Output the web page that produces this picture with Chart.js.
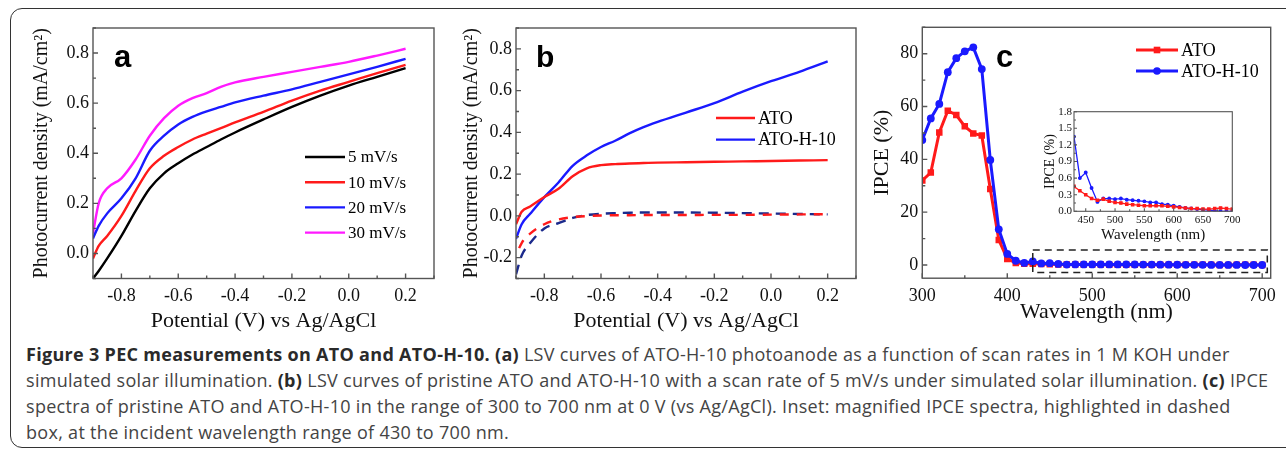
<!DOCTYPE html>
<html lang="en">
  <head>
    <meta charset="UTF-8" />
    <script src="https://cdn.jsdelivr.net/npm/chart.js"></script>
    <style>
      body { margin: 0; width: 1286px; height: 453px; overflow: hidden; background: #fff; position: relative; }
      .frame {
        position: absolute; left: 10px; top: 8px; width: 1300px; height: 440px;
        box-sizing: border-box; border: 1.6px solid #333; border-radius: 12px;
      }
      canvas { position: absolute; }
      #chartA { left: 0; top: 0; }
      #chartB { left: 430px; top: 0; }
      #chartC { left: 850px; top: 0; }
      #chartInset { left: 1010px; top: 95px; }
      .caption {
        position: absolute; left: 26px; top: 342px; white-space: nowrap;
        font-family: "Open Sans", sans-serif; font-size: 18px; letter-spacing: 0.3px;
        line-height: 25.9px; color: #444;
      }
      .caption b { color: #2a2a2a; }
    </style>
  </head>
  <body>
    <div class="frame"></div>
    <canvas id="chartA" width="445" height="340"></canvas>
    <canvas id="chartB" width="436" height="340"></canvas>
    <canvas id="chartC" width="436" height="340"></canvas>
    <canvas id="chartInset" width="240" height="160"></canvas>
    <div class="caption">
      <b>Figure 3 PEC measurements on ATO and ATO-H-10. (a)</b> LSV curves of ATO-H-10 photoanode as a function of scan rates in 1 M KOH under<br />
      simulated solar illumination. <b>(b)</b> LSV curves of pristine ATO and ATO-H-10 with a scan rate of 5 mV/s under simulated solar illumination. <b>(c)</b> IPCE<br />
      spectra of pristine ATO and ATO-H-10 in the range of 300 to 700 nm at 0 V (vs Ag/AgCl). Inset: magnified IPCE spectra, highlighted in dashed<br />
      box, at the incident wavelength range of 430 to 700 nm.
    </div>

    <script>
      // ---- panel a : scan rates ----
      const aPotential = [-0.9, -0.88, -0.85, -0.8, -0.75, -0.7, -0.65, -0.6, -0.55, -0.5, -0.45, -0.4, -0.3, -0.2, -0.1, 0.0, 0.1, 0.2];
      const a5mV = [-0.1, -0.07, -0.02, 0.07, 0.17, 0.26, 0.32, 0.36, 0.395, 0.425, 0.455, 0.483, 0.535, 0.585, 0.63, 0.67, 0.705, 0.74];
      const a10mV = [-0.02, 0.03, 0.07, 0.15, 0.25, 0.34, 0.39, 0.425, 0.455, 0.478, 0.5, 0.523, 0.565, 0.61, 0.65, 0.685, 0.72, 0.753];
      const a20mV = [0.06, 0.11, 0.16, 0.22, 0.3, 0.41, 0.47, 0.515, 0.545, 0.567, 0.585, 0.603, 0.63, 0.655, 0.685, 0.715, 0.745, 0.777];
      const a30mV = [0.08, 0.2, 0.26, 0.3, 0.375, 0.47, 0.54, 0.59, 0.62, 0.64, 0.665, 0.683, 0.705, 0.725, 0.745, 0.765, 0.79, 0.817];
      const aXTicks = [-0.8, -0.6, -0.4, -0.2, 0.0, 0.2];
      const aYTicks = [0.0, 0.2, 0.4, 0.6, 0.8];

      // ---- panel b : ATO vs ATO-H-10 (light solid, dark dashed) ----
      const bPotential = [-0.9, -0.88, -0.85, -0.8, -0.75, -0.7, -0.65, -0.6, -0.55, -0.5, -0.45, -0.4, -0.3, -0.2, -0.1, 0.0, 0.1, 0.2];
      const bAtoLight = [-0.04, 0.02, 0.045, 0.09, 0.13, 0.19, 0.228, 0.243, 0.248, 0.251, 0.253, 0.255, 0.257, 0.259, 0.261, 0.263, 0.265, 0.267];
      const bH10Light = [-0.11, -0.04, 0.01, 0.09, 0.16, 0.24, 0.29, 0.33, 0.36, 0.395, 0.425, 0.45, 0.495, 0.54, 0.595, 0.645, 0.69, 0.74];
      const bAtoDark = [-0.19, -0.13, -0.085, -0.04, -0.017, -0.006, -0.001, 0.002, 0.003, 0.003, 0.004, 0.004, 0.004, 0.005, 0.005, 0.006, 0.007, 0.008];
      const bH10Dark = [-0.28, -0.19, -0.13, -0.06, -0.035, -0.01, 0.004, 0.01, 0.013, 0.015, 0.016, 0.016, 0.016, 0.015, 0.013, 0.011, 0.009, 0.007];
      const bXTicks = [-0.8, -0.6, -0.4, -0.2, 0.0, 0.2];
      const bYTicks = [-0.2, 0.0, 0.2, 0.4, 0.6, 0.8];

      // ---- panel c : IPCE ----
      const ipceWl = [300, 310, 320, 330, 340, 350, 360, 370, 380, 390, 400, 410, 420, 430, 440, 450, 460, 470, 480, 490, 500,
        510, 520, 530, 540, 550, 560, 570, 580, 590, 600, 610, 620, 630, 640, 650, 660, 670, 680, 690, 700];
      const ipceAto = [32, 35, 50.2, 58.4, 56.8, 52.5, 49.8, 49, 28.8, 9.5, 2.3, 0.8, 0.5, 0.45, 0.37, 0.3, 0.23, 0.2, 0.22, 0.18, 0.16,
        0.15, 0.13, 0.12, 0.11, 0.1, 0.1, 0.1, 0.1, 0.09, 0.08, 0.07, 0.06, 0.05, 0.05, 0.04, 0.04, 0.05, 0.06, 0.05, 0.04];
      const ipceH10 = [47.3, 55.5, 61, 73, 78.3, 80.9, 82.4, 74.2, 39.8, 13.5, 4.2, 1.6, 0.8, 1.35, 0.6, 0.7, 0.42, 0.17, 0.23, 0.23, 0.22,
        0.23, 0.21, 0.2, 0.19, 0.18, 0.16, 0.16, 0.13, 0.12, 0.1, 0.08, 0.06, 0.05, 0.04, 0.03, 0.02, 0.01, 0.0, 0.0, 0.0];
      const cXTicks = [300, 400, 500, 600, 700];
      const cYTicks = [0, 20, 40, 60, 80];
      const insetStart = 430;
      const insetXTicks = [450, 500, 550, 600, 650, 700];
      const insetYTicks = [0.0, 0.3, 0.6, 0.9, 1.2, 1.5, 1.8];

      const SERIF = '"Liberation Serif", "Times New Roman", serif';
      const RED = "#ff1a1a", BLUE = "#1a1aff", BLACK = "#000000", MAGENTA = "#ff1aff", NAVY = "#1b2a8c";

      function pts(xs, ys) {
        return xs.map((x, i) => ({ x: x, y: ys[i] }));
      }

      // frame, inward ticks, panel letter, legend, dashed box
      const deco = {
        id: "deco",
        afterDraw(chart, args, o) {
          const { ctx, chartArea: ca, scales } = chart;
          const xs = scales.x, ys = scales.y;
          ctx.save();
          ctx.strokeStyle = "#555";
          ctx.lineWidth = o.lw || 1.4;
          ctx.strokeRect(ca.left, ca.top, ca.right - ca.left, ca.bottom - ca.top);

          const minors = (sc) => {
            const v = sc.ticks.map((t) => t.value), step = v[1] - v[0], out = [];
            for (let m = v[0] - step / 2; m <= sc.max + 1e-9; m += step) if (m >= sc.min - 1e-9) out.push(m);
            return out;
          };
          const major = o.major || 5, minor = o.minor || 3;
          ctx.beginPath();
          xs.ticks.forEach((t) => { const p = xs.getPixelForValue(t.value); ctx.moveTo(p, ca.bottom); ctx.lineTo(p, ca.bottom - major); });
          minors(xs).forEach((m) => { const p = xs.getPixelForValue(m); ctx.moveTo(p, ca.bottom); ctx.lineTo(p, ca.bottom - minor); });
          ys.ticks.forEach((t) => { const p = ys.getPixelForValue(t.value); ctx.moveTo(ca.left, p); ctx.lineTo(ca.left + major, p); });
          minors(ys).forEach((m) => { const p = ys.getPixelForValue(m); ctx.moveTo(ca.left, p); ctx.lineTo(ca.left + minor, p); });
          ctx.stroke();

          if (o.box) {
            const b = o.box;
            const x0 = xs.getPixelForValue(b.x0), x1 = xs.getPixelForValue(b.x1);
            const y0 = ys.getPixelForValue(b.y0), y1 = ys.getPixelForValue(b.y1);
            ctx.setLineDash([7, 5]);
            ctx.strokeStyle = "#222";
            ctx.lineWidth = 1.5;
            ctx.strokeRect(x0, y1, x1 - x0, y0 - y1);
            ctx.setLineDash([]);
          }

          if (o.tag) {
            ctx.fillStyle = "#000";
            ctx.font = "bold " + o.tag.size + 'px "Liberation Sans", Arial, sans-serif';
            ctx.textBaseline = "alphabetic";
            ctx.fillText(o.tag.text, o.tag.x, o.tag.y);
          }

          if (o.legend) {
            const L = o.legend;
            ctx.font = L.size + "px " + SERIF;
            ctx.textBaseline = "middle";
            L.items.forEach((di, k) => {
              const ds = chart.data.datasets[di];
              const yy = L.y + k * L.dy;
              ctx.strokeStyle = ds.borderColor;
              ctx.lineWidth = ds.borderWidth;
              ctx.beginPath();
              ctx.moveTo(L.x, yy);
              ctx.lineTo(L.x + L.len, yy);
              ctx.stroke();
              if (L.markers) {
                const cx = L.x + L.len / 2;
                ctx.fillStyle = ds.borderColor;
                ctx.beginPath();
                if (ds.pointStyle === "rect") ctx.rect(cx - 3.3, yy - 3.3, 6.6, 6.6);
                else ctx.arc(cx, yy, 3.8, 0, Math.PI * 2);
                ctx.fill();
              }
              ctx.fillStyle = "#000";
              ctx.fillText(ds.label, L.x + L.len + 3, yy + 1);
            });
          }
          ctx.restore();
        },
      };

      function axis(opts) {
        return {
          type: "linear",
          min: opts.min,
          max: opts.max,
          grid: { display: false, drawTicks: false, tickLength: 0 },
          border: { display: false },
          afterBuildTicks: (s) => { s.ticks = opts.ticks.map((v) => ({ value: v })); },
          afterFit: (s) => { if (opts.width !== undefined) s.width = opts.width; if (opts.height !== undefined) s.height = opts.height; },
          ticks: {
            color: "#111",
            padding: opts.pad,
            maxRotation: 0,
            autoSkip: false,
            font: { family: SERIF, size: opts.tickSize },
            callback: opts.fmt,
          },
          title: {
            display: true,
            text: opts.title,
            color: "#111",
            font: { family: SERIF, size: opts.titleSize, lineHeight: 1.2 },
            padding: opts.titlePad,
          },
        };
      }

      const fmt1 = (v) => Number(v).toFixed(1);
      const fmt0 = (v) => String(v);
      const base = { responsive: false, animation: false, devicePixelRatio: 1 };
      const noLegend = { legend: { display: false }, tooltip: { enabled: false } };

      function line(label, xs, ys, color, extra) {
        return Object.assign({
          label: label,
          data: pts(xs, ys),
          borderColor: color,
          backgroundColor: color,
          borderWidth: 2.4,
          pointRadius: 0,
          cubicInterpolationMode: "monotone",
          fill: false,
        }, extra || {});
      }

      // panel a
      new Chart(document.getElementById("chartA"), {
        type: "line",
        data: {
          datasets: [
            line("5 mV/s", aPotential, a5mV, BLACK),
            line("10 mV/s", aPotential, a10mV, RED),
            line("20 mV/s", aPotential, a20mV, BLUE),
            line("30 mV/s", aPotential, a30mV, MAGENTA),
          ],
        },
        options: Object.assign({}, base, {
          layout: { padding: { top: 28, right: 11, left: 0, bottom: 0 } },
          scales: {
            x: axis({ min: -0.9, max: 0.3, ticks: aXTicks, height: 61.5, pad: 7, tickSize: 18, fmt: fmt1,
              title: "Potential (V) vs Ag/AgCl", titleSize: 22, titlePad: { top: 0, bottom: 6 } }),
            y: axis({ min: -0.1, max: 0.9, ticks: aYTicks, width: 93, pad: 4, tickSize: 18, fmt: fmt1,
              title: "Photocurrent density (mA/cm²)", titleSize: 20, titlePad: { top: 30, bottom: 0 } }),
          },
          plugins: Object.assign({}, noLegend, {
            deco: { tag: { text: "a", x: 114, y: 67, size: 31 },
              legend: { x: 305, y: 157, dy: 25.2, len: 40, size: 17, items: [0, 1, 2, 3] } },
          }),
        }),
        plugins: [deco],
      });

      // panel b
      new Chart(document.getElementById("chartB"), {
        type: "line",
        data: {
          datasets: [
            line("ATO", bPotential, bAtoLight, RED),
            line("ATO-H-10", bPotential, bH10Light, BLUE),
            line("ATO dark", bPotential, bAtoDark, RED, { borderDash: [9, 8], borderDashOffset: 9 }),
            line("ATO-H-10 dark", bPotential, bH10Dark, NAVY, { borderDash: [10, 7] }),
          ],
        },
        options: Object.assign({}, base, {
          layout: { padding: { top: 28, right: 10, left: 0, bottom: 0 } },
          scales: {
            x: axis({ min: -0.9, max: 0.3, ticks: bXTicks, height: 61.5, pad: 7, tickSize: 18, fmt: fmt1,
              title: "Potential (V) vs Ag/AgCl", titleSize: 22, titlePad: { top: 0, bottom: 6 } }),
            y: axis({ min: -0.3, max: 0.9, ticks: bYTicks, width: 86, pad: 4, tickSize: 18, fmt: fmt1,
              title: "Photocurrent density (mA/cm²)", titleSize: 20, titlePad: { top: 30, bottom: 0 } }),
          },
          plugins: Object.assign({}, noLegend, {
            deco: { tag: { text: "b", x: 106, y: 67, size: 30 },
              legend: { x: 286, y: 118, dy: 21.6, len: 39, size: 18, items: [0, 1] } },
          }),
        }),
        plugins: [deco],
      });

      // panel c
      const markerOpts = (style, r) => ({
        cubicInterpolationMode: "default", tension: 0, borderWidth: 3,
        pointStyle: style, pointRadius: r, pointBorderWidth: 0,
      });
      new Chart(document.getElementById("chartC"), {
        type: "line",
        data: {
          datasets: [
            line("ATO", ipceWl, ipceAto, RED, Object.assign(markerOpts("rect", 4.6), { order: 1 })),
            line("ATO-H-10", ipceWl, ipceH10, BLUE, Object.assign(markerOpts("circle", 3.9), { order: 0 })),
          ],
        },
        options: Object.assign({}, base, {
          layout: { padding: { top: 27.3, right: 15.3, left: 0, bottom: 0 } },
          scales: {
            x: axis({ min: 300, max: 710, ticks: cXTicks, height: 61.8, pad: 7, tickSize: 18, fmt: fmt0,
              title: "Wavelength (nm)", titleSize: 22, titlePad: { top: 0, bottom: 15 } }),
            y: axis({ min: -5, max: 90, ticks: cYTicks, width: 72.3, pad: 4, tickSize: 18, fmt: fmt0,
              title: "IPCE (%)", titleSize: 22, titlePad: { top: 19, bottom: 0 } }),
          },
          plugins: Object.assign({}, noLegend, {
            deco: { tag: { text: "c", x: 146, y: 67, size: 31 },
              box: { x0: 430, x1: 706, y0: -2.8, y1: 5.7 },
              legend: { x: 286, y: 50, dy: 21, len: 42, size: 18, items: [0, 1], markers: true } },
          }),
        }),
        plugins: [deco],
      });

      // inset of panel c
      const iFrom = ipceWl.indexOf(insetStart);
      new Chart(document.getElementById("chartInset"), {
        type: "line",
        data: {
          datasets: [
            line("ATO", ipceWl.slice(iFrom), ipceAto.slice(iFrom), RED,
              { tension: 0, cubicInterpolationMode: "default", borderWidth: 1.3, pointStyle: "rect", pointRadius: 1.6, order: 0 }),
            line("ATO-H-10", ipceWl.slice(iFrom), ipceH10.slice(iFrom), BLUE,
              { tension: 0, cubicInterpolationMode: "default", borderWidth: 1.3, pointStyle: "circle", pointRadius: 1.3, order: 1 }),
          ],
        },
        options: Object.assign({}, base, {
          layout: { padding: { top: 16.7, right: 17.7, left: 0, bottom: 0 } },
          scales: {
            x: axis({ min: 430, max: 700, ticks: insetXTicks, height: 43.7, pad: 2, tickSize: 11, fmt: fmt0,
              title: "Wavelength (nm)", titleSize: 15, titlePad: { top: 0, bottom: 11 } }),
            y: axis({ min: 0, max: 1.8, ticks: insetYTicks, width: 64, pad: 2, tickSize: 11, fmt: fmt1,
              title: "IPCE (%)", titleSize: 14, titlePad: { top: 31.5, bottom: 0 } }),
          },
          plugins: Object.assign({}, noLegend, { deco: { lw: 1.1, major: 3, minor: 2 } }),
        }),
        plugins: [deco],
      });
    </script>
  </body>
</html>
